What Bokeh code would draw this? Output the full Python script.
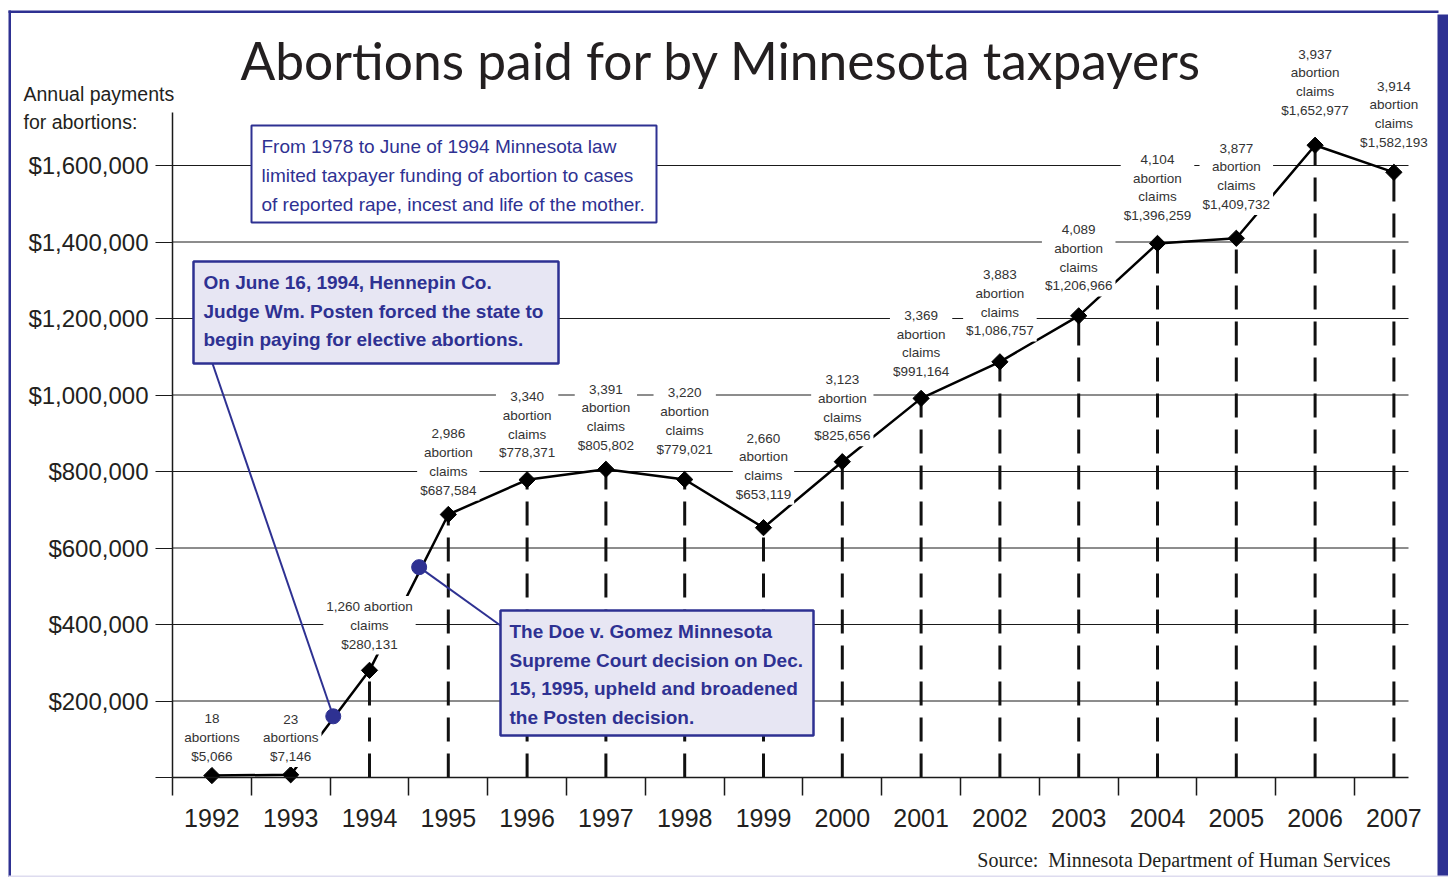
import numpy as np
from bokeh.plotting import figure
from bokeh.models import Range1d, FixedTicker, NumeralTickFormatter, Label, BoxAnnotation
from bokeh.embed import file_html
from bokeh.resources import INLINE

# ---------------- data ----------------
years = [1992, 1993, 1994, 1995, 1996, 1997, 1998, 1999, 2000,
         2001, 2002, 2003, 2004, 2005, 2006, 2007]
payments = [5066, 7146, 280131, 687584, 778371, 805802, 779021, 653119,
            825656, 991164, 1086757, 1206966, 1396259, 1409732, 1652977, 1582193]
claims = [18, 23, 1260, 2986, 3340, 3391, 3220, 2660,
          3123, 3369, 3883, 4089, 4104, 3877, 3937, 3914]
y_ticks = [0, 200000, 400000, 600000, 800000, 1000000, 1200000, 1400000, 1600000]
event_years = [1993.54, 1994.63]          # court decisions marked on the line
event_payments = [160000, 550000]

title_text = "Abortions paid for by Minnesota taxpayers"
ycap_lines = ["Annual payments", "for abortions:"]
note_a = ["From 1978 to June of 1994 Minnesota law",
          "limited taxpayer funding of abortion to cases",
          "of reported rape, incest and life of the mother."]
note_b = ["On June 16, 1994, Hennepin Co.",
          "Judge Wm. Posten forced the state to",
          "begin paying for elective abortions."]
note_c = ["The Doe v. Gomez Minnesota",
          "Supreme Court decision on Dec.",
          "15, 1995, upheld and broadened",
          "the Posten decision."]
source_text = "Source:\u00a0 Minnesota Department of Human Services"

# ---------------- layout (pixel geometry of the reference) ----------------
W, H = 1448, 877
PX_YEAR = 78.8                 # px per year
PX_DOLLAR = 76.5 / 200000      # px per dollar
X_START = 1991.5
REF_X0, REF_Y0 = 172, 777      # pixel position of (1991.5, 0)

def X(px):
    return X_START + (px - REF_X0) / PX_YEAR

def Y(py):
    return (REF_Y0 - py) / PX_DOLLAR

X_END = X(1408)
Y_TOP = Y(112)

label_gap_px = [38, 37, 45, 52.5, 55, 52, 58.5, 61.5, 54, 55, 59, 58, 56, 62, 63, 58]

BLUE = "#2e3192"
LAV = "#e7e6f3"
INK = "#231f20"
GRID = "#1a1a1a"
SANS = "Liberation Sans"

p = figure(width=W, height=H, output_backend="svg", toolbar_location=None, title=None,
           x_range=Range1d(X(0), X(W)), y_range=Range1d(Y(H), Y(0)),
           min_border=0, min_border_left=0, min_border_right=0,
           min_border_top=0, min_border_bottom=0,
           background_fill_color="white", border_fill_color="white")
p.outline_line_color = None
p.xgrid.visible = False
p.ygrid.visible = False

# y axis (drawn at x = 1991.5)
p.yaxis.fixed_location = X_START
p.yaxis.bounds = (0, Y_TOP)
p.yaxis.ticker = FixedTicker(ticks=y_ticks)
p.yaxis.formatter = NumeralTickFormatter(format="$0,0")
p.yaxis.major_label_overrides = {0: ""}
p.yaxis.major_tick_out = 17
p.yaxis.major_tick_in = 0
p.yaxis.minor_tick_out = 0
p.yaxis.minor_tick_in = 0
p.yaxis.major_tick_line_color = GRID
p.yaxis.axis_line_width = 1.5
p.yaxis.axis_line_color = GRID
p.yaxis.major_label_text_font = SANS
p.yaxis.major_label_text_font_size = "24px"
p.yaxis.major_label_text_color = INK
p.yaxis.major_label_standoff = 7

# x axis (drawn at y = 0)
p.xaxis.fixed_location = 0
p.xaxis.bounds = (X_START, X_END)
p.xaxis.ticker = FixedTicker(ticks=years, minor_ticks=[y - 0.5 for y in years])
p.xaxis.major_label_overrides = {y: str(y) for y in years}
p.xaxis.major_tick_out = 0
p.xaxis.major_tick_in = 0
p.xaxis.minor_tick_out = 18
p.xaxis.minor_tick_in = 0
p.xaxis.minor_tick_line_width = 1.5
p.xaxis.minor_tick_line_color = GRID
p.xaxis.axis_line_width = 1.5
p.xaxis.axis_line_color = GRID
p.xaxis.major_label_text_font = SANS
p.xaxis.major_label_text_font_size = "25px"
p.xaxis.major_label_text_color = INK
p.xaxis.major_label_standoff = 13

yrs = np.array(years, dtype=float)
pay = np.array(payments, dtype=float)
drop = yrs >= 1994
gl = np.array(y_ticks[1:], dtype=float)

# horizontal grid lines across the plotting area
p.segment(x0=np.full(gl.size, X_START), y0=gl, x1=np.full(gl.size, X_END), y1=gl,
          line_color=GRID, line_width=1)
# dashed drop lines
p.segment(x0=yrs[drop], y0=np.zeros(drop.sum()), x1=yrs[drop], y1=pay[drop],
          line_color="#111111", line_width=3, line_dash="24 12")
# data line
p.line(yrs, pay, line_color="black", line_width=2.5)
# leader lines and event circles
p.segment(x0=event_years, y0=event_payments, x1=[X(212), X(500)], y1=[Y(363), Y(625)],
          line_color=BLUE, line_width=2)
p.scatter(event_years, event_payments, marker="circle", size=15, fill_color=BLUE, line_color=BLUE)
# diamonds
p.scatter(yrs, pay, marker="square", angle=np.pi / 4, size=11.5,
          fill_color="black", line_color="black")

# outer frame
for l, r, t, b, c in [(8, 1438, 10, 12.5, BLUE), (8, 10.5, 10, 877, BLUE),
                      (1437, 1448, 14, 877, BLUE), (8, 1448, 875, 877, "#dedcef")]:
    p.add_layout(BoxAnnotation(left=X(l), right=X(r), top=Y(t), bottom=Y(b),
                               fill_color=c, fill_alpha=1, line_color=None))

# data labels
for i, (yr, v, n) in enumerate(zip(years, payments, claims)):
    if n < 100:
        txt = f"{n}\nabortions\n${v:,}"
    elif v < 500000:
        txt = f"{n:,} abortion\nclaims\n${v:,}"
    else:
        txt = f"{n:,}\nabortion\nclaims\n${v:,}"
    p.add_layout(Label(x=yr, y=v + label_gap_px[i] / PX_DOLLAR, text=txt,
                       text_align="center", text_baseline="middle",
                       text_font=SANS, text_font_size="13.5px", text_color="#333333",
                       text_line_height=1.25, background_fill_color="white",
                       background_fill_alpha=1, padding=3))

# note boxes
for (l, r, t, b, fc, lw) in [(251, 656, 125, 222, "white", 2),
                             (193, 558, 261, 363, LAV, 2.5),
                             (500, 813, 610, 735, LAV, 2.5)]:
    p.add_layout(BoxAnnotation(left=X(l), right=X(r), top=Y(t), bottom=Y(b),
                               fill_color=fc, fill_alpha=1, line_color=BLUE,
                               line_alpha=1, line_width=lw))

def text_lines(lines, left, mid0, step, size, style):
    for k, s in enumerate(lines):
        p.add_layout(Label(x=X(left), y=Y(mid0 + k * step), text=s,
                           text_align="left", text_baseline="middle",
                           text_font=SANS, text_font_size=size,
                           text_font_style=style, text_color=BLUE))

text_lines(note_a, 261, 146, 29, "19px", "normal")
text_lines(note_b, 203, 282, 28.7, "19px", "bold")
text_lines(note_c, 509, 631, 28.7, "19px", "bold")

# title, axis caption, source
def page_label(px, py, text, **kw):
    p.add_layout(Label(x=X(px), y=Y(py), text=text, text_baseline="middle",
                       text_color=INK, **kw))

page_label(721, 59, title_text, text_align="center", text_font="Lato", text_font_size="51.5px")
for k, s in enumerate(ycap_lines):
    page_label(23, 93.5 + 28 * k, s, text_align="left", text_font=SANS, text_font_size="19.5px")
page_label(1390, 859, source_text, text_align="right", text_font="Liberation Serif",
           text_font_size="20px")

open("out.html", "w").write(file_html(p, INLINE))
